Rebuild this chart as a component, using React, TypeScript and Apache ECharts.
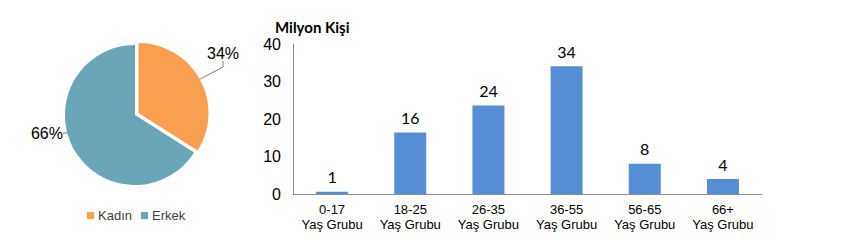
import React, { useEffect, useRef } from "react";
import * as echarts from "echarts";

const genderNames = ["Kadın", "Erkek"];
const genderShares = [34, 66];
const genderColors = ["#F99F50", "#6AA6B8"];

const ageCategories = ["0-17\nYaş Grubu", "18-25\nYaş Grubu", "26-35\nYaş Grubu", "36-55\nYaş Grubu", "56-65\nYaş Grubu", "66+\nYaş Grubu"];
const ageValues = [0.6, 16.4, 23.6, 34.1, 8.1, 4.0];
const yTicks = { min: 0, max: 40, interval: 10 };

const pieLabel = {
  show: true,
  position: "outside",
  formatter: "{c}%",
  fontFamily: "Liberation Sans",
  fontSize: 16,
  color: "#000",
};
const pieLine = { show: true, length: 8, length2: 6, lineStyle: { color: "#7f7f7f", width: 1 } };

function pieData(visibleIndex: number) {
  return genderNames.map((n, i) =>
    i === visibleIndex
      ? { name: n, value: genderShares[i], itemStyle: { color: genderColors[i] } }
      : {
          name: "",
          value: genderShares[i],
          itemStyle: { color: "rgba(0,0,0,0)", borderWidth: 0 },
          label: { show: false },
          labelLine: { show: false },
          emphasis: { disabled: true },
        }
  );
}

export default function App() {
  const ref = useRef<HTMLDivElement>(null);
  useEffect(() => {
    const chart = echarts.init(ref.current!, null, { renderer: "svg" });
    chart.setOption({
      animation: false,
      backgroundColor: "#ffffff",
      title: {
        text: "Milyon Kişi",
        left: 270,
        top: 14,
        textStyle: { fontFamily: "Lato", fontWeight: "bold", fontSize: 15, color: "#000" },
      },
      legend: {
        data: genderNames,
        left: 87,
        top: 209,
        padding: 0,
        icon: "rect",
        itemWidth: 7,
        itemHeight: 7,
        itemGap: 9,
        textStyle: { fontFamily: "Liberation Sans", fontSize: 13, color: "#404040", padding: [0, 0, 0, -1] },
      },
      grid: { left: 293, right: 94, top: 44, bottom: 48, containLabel: false },
      xAxis: {
        type: "category",
        data: ageCategories,
        axisLine: { show: true, lineStyle: { color: "#8c8c8c", width: 1 } },
        axisTick: { show: false },
        axisLabel: { fontFamily: "Liberation Sans", fontSize: 13, color: "#000", lineHeight: 15, margin: 8, interval: 0 },
      },
      yAxis: {
        type: "value",
        min: yTicks.min,
        max: yTicks.max,
        interval: yTicks.interval,
        axisLine: { show: true, lineStyle: { color: "#8c8c8c", width: 1 } },
        axisTick: { show: false },
        splitLine: { show: false },
        axisLabel: { fontFamily: "Liberation Sans", fontSize: 16, color: "#000", margin: 12 },
      },
      series: [
        {
          type: "pie",
          center: [135, 115],
          radius: 70,
          startAngle: 90,
          clockwise: true,
          data: pieData(1),
          label: pieLabel,
          labelLine: pieLine,
          labelLayout: () => ({ x: 63, y: 133, align: "right", verticalAlign: "middle" }),
        },
        {
          type: "pie",
          center: [138.5, 113],
          radius: 70,
          startAngle: 90,
          clockwise: true,
          data: pieData(0),
          label: pieLabel,
          labelLine: pieLine,
          labelLayout: () => ({ x: 207, y: 53, align: "left", verticalAlign: "middle" }),
        },
        {
          type: "bar",
          data: ageValues,
          barWidth: 32,
          itemStyle: { color: "#558ED5" },
          label: {
            show: true,
            position: "top",
            distance: 7,
            formatter: (p: any) => String(Math.round(p.value)),
            fontFamily: "Lato",
            fontSize: 16,
            color: "#000",
          },
        },
      ],
    });
    return () => chart.dispose();
  }, []);
  return <div ref={ref} style={{ position: "fixed", left: 0, top: 0, width: 856, height: 242 }} />;
}
